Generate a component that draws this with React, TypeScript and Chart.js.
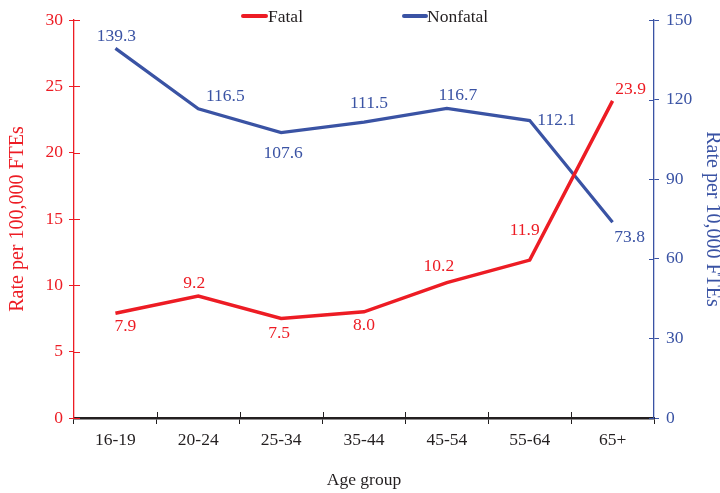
import React, { useEffect, useRef } from "react";
import { Chart, registerables } from "chart.js";

Chart.register(...registerables);

const categories = ["16-19", "20-24", "25-34", "35-44", "45-54", "55-64", "65+"];
const fatalRates = [7.9, 9.2, 7.5, 8.0, 10.2, 11.9, 23.9];
const nonfatalRates = [139.3, 116.5, 107.6, 111.5, 116.7, 112.1, 73.8];
const fatalLabels = ["7.9", "9.2", "7.5", "8.0", "10.2", "11.9", "23.9"];
const nonfatalLabels = ["139.3", "116.5", "107.6", "111.5", "116.7", "112.1", "73.8"];

const RED = "#ED1C24";
const BLUE = "#3A53A4";
const DARK = "#231F20";
const FONT = "'Liberation Serif', 'Times New Roman', serif";

// label offsets (style only)
const fatalOffsets: [number, number][] = [
  [10, 13], [-4, -13], [-2, 15], [0, 14], [-8, -16], [-5, -30], [18, -12],
];
const nonfatalOffsets: [number, number][] = [
  [1, -12], [27, -12], [2, 21], [5, -19], [11, -13], [27, 0], [17, 15],
];

const decorPlugin = {
  id: "decor",
  afterDatasetsDraw(chart: any) {
    const ctx = chart.ctx;
    ctx.save();
    ctx.font = `17.5px ${FONT}`;
    ctx.textAlign = "center";
    ctx.textBaseline = "middle";
    const draw = (dsIndex: number, labels: string[], offs: [number, number][], color: string) => {
      const meta = chart.getDatasetMeta(dsIndex);
      ctx.fillStyle = color;
      meta.data.forEach((pt: any, i: number) => {
        ctx.fillText(labels[i], pt.x + offs[i][0], pt.y + offs[i][1]);
      });
    };
    draw(0, fatalLabels, fatalOffsets, RED);
    draw(1, nonfatalLabels, nonfatalOffsets, BLUE);
    ctx.restore();
  },
  afterDraw(chart: any) {
    const ctx = chart.ctx;
    const area = chart.chartArea;
    const yl = chart.scales.y;
    const yr = chart.scales.y2;
    ctx.save();
    ctx.lineWidth = 1;
    // inner tick marks, left axis
    ctx.strokeStyle = RED;
    yl.ticks.forEach((t: any) => {
      const y = Math.round(yl.getPixelForValue(t.value)) + 0.5;
      ctx.beginPath();
      ctx.moveTo(area.left, y);
      ctx.lineTo(area.left + 6, y);
      ctx.stroke();
    });
    ctx.strokeStyle = BLUE;
    yr.ticks.forEach((t: any) => {
      const y = Math.round(yr.getPixelForValue(t.value)) + 0.5;
      ctx.beginPath();
      ctx.moveTo(area.right - 5, y);
      ctx.lineTo(area.right, y);
      ctx.stroke();
    });
    ctx.strokeStyle = DARK;
    const n = categories.length;
    for (let i = 1; i < n; i++) {
      const x = Math.round(area.left + (i * (area.right - area.left)) / n) + 0.5;
      ctx.beginPath();
      ctx.moveTo(x, area.bottom - 6);
      ctx.lineTo(x, area.bottom);
      ctx.stroke();
    }
    // legend
    ctx.font = `17.5px ${FONT}`;
    ctx.textAlign = "left";
    ctx.textBaseline = "middle";
    ctx.lineWidth = 4;
    ctx.lineCap = "round";
    ctx.strokeStyle = RED;
    ctx.beginPath();
    ctx.moveTo(243, 16);
    ctx.lineTo(266, 16);
    ctx.stroke();
    ctx.fillStyle = DARK;
    ctx.fillText("Fatal", 268, 17);
    ctx.strokeStyle = BLUE;
    ctx.beginPath();
    ctx.moveTo(404, 16);
    ctx.lineTo(426, 16);
    ctx.stroke();
    ctx.fillText("Nonfatal", 427, 17);
    ctx.restore();
  },
};

export default function App() {
  const ref = useRef<HTMLCanvasElement>(null);
  useEffect(() => {
    if (!ref.current) return;
    const chart = new Chart(ref.current, {
      type: "line",
      data: {
        labels: categories,
        datasets: [
          {
            label: "Fatal",
            data: fatalRates,
            borderColor: RED,
            backgroundColor: RED,
            borderWidth: 3.5,
            pointRadius: 0,
            tension: 0,
            yAxisID: "y",
          },
          {
            label: "Nonfatal",
            data: nonfatalRates,
            borderColor: BLUE,
            backgroundColor: BLUE,
            borderWidth: 3.2,
            pointRadius: 0,
            tension: 0,
            yAxisID: "y2",
          },
        ],
      },
      options: {
        responsive: false,
        animation: false,
        devicePixelRatio: 1,
        layout: { padding: { top: 20, left: 0, right: 0, bottom: 0 } },
        plugins: {
          legend: { display: false },
          tooltip: { enabled: false },
        },
        scales: {
          x: {
            offset: true,
            grid: {
              display: true,
              drawOnChartArea: false,
              offset: true,
              color: DARK,
              tickLength: 6,
              lineWidth: 1,
            },
            border: { display: true, color: DARK, width: 2.5 },
            ticks: { color: DARK, font: { family: FONT, size: 17.5 }, padding: 6 },
            title: {
              display: true,
              text: "Age group",
              color: DARK,
              font: { family: FONT, size: 17.5, lineHeight: 1.2 },
              padding: { top: 0, bottom: 2.5 },
            },
            afterFit: (s: any) => {
              s.height = 75;
            },
          },
          y: {
            position: "left",
            min: 0,
            max: 30,
            ticks: { stepSize: 5, color: RED, font: { family: FONT, size: 17.5 }, padding: 6 },
            grid: { drawOnChartArea: false, color: RED, tickLength: 5 },
            border: { display: true, color: RED, width: 1.3 },
            title: {
              display: true,
              text: "Rate per 100,000 FTEs",
              color: RED,
              font: { family: FONT, size: 20, lineHeight: 1.2 },
              padding: { top: 6, bottom: 0 },
            },
            afterFit: (s: any) => {
              s.width = 74;
            },
          },
          y2: {
            position: "right",
            min: 0,
            max: 150,
            ticks: { stepSize: 30, color: BLUE, font: { family: FONT, size: 17.5 }, padding: 7 },
            grid: { drawOnChartArea: false, color: BLUE, tickLength: 5 },
            border: { display: true, color: BLUE, width: 1.3 },
            title: {
              display: true,
              text: "Rate per 10,000 FTEs",
              color: BLUE,
              font: { family: FONT, size: 20, lineHeight: 0.8 },
              padding: { top: 0, bottom: 0 },
            },
            afterFit: (s: any) => {
              s.width = 66;
            },
          },
        },
      },
      plugins: [decorPlugin],
    } as any);
    return () => chart.destroy();
  }, []);
  return (
    <div style={{ position: "absolute", left: 0, top: 0, width: 720, height: 493, background: "#fff" }}>
      <canvas ref={ref} width={720} height={493} style={{ display: "block" }} />
    </div>
  );
}
